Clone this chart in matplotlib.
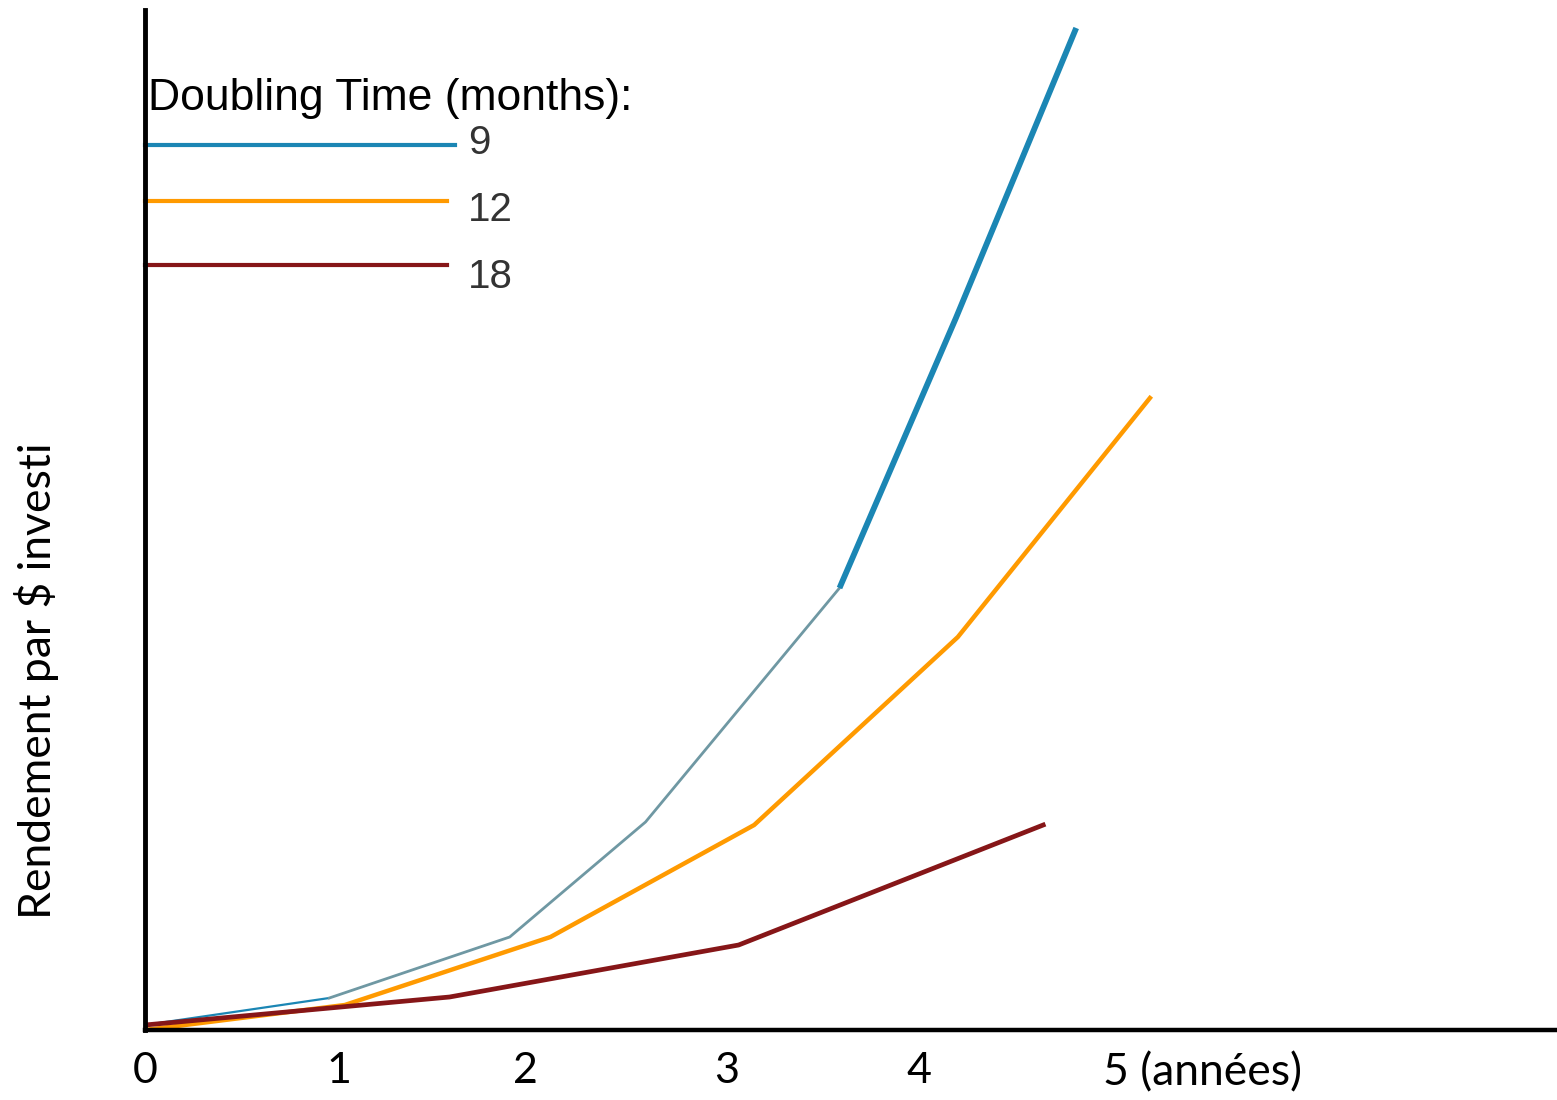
import matplotlib
matplotlib.use("Agg")
import matplotlib.pyplot as plt

# Rendement par $ investi, selon le temps de doublement (mois)
# x in years, y in arbitrary units
years_9 = [0.0, 0.95, 1.88, 2.58, 3.58, 4.18, 4.80]
value_9 = [0.05, 0.32, 0.93, 2.08, 4.42, 7.12, 10.02]

years_12 = [0.0, 1.03, 2.09, 3.14, 4.19, 5.18]
value_12 = [0.0, 0.25, 0.93, 2.05, 3.93, 6.32]

years_18 = [0.0, 1.57, 3.06, 4.63]
value_18 = [0.05, 0.33, 0.85, 2.05]

tick_years = [0, 1, 1.96, 3, 3.99]
tick_labels = ["0", "1", "2", "3", "4"]
legend_labels = ["9", "12", "18"]

BLUE = "#1b86b4"
BLUE_MID = "#6f98a3"
ORANGE = "#ff9a00"
DARKRED = "#861618"

fig = plt.figure(figsize=(15.57, 11), dpi=100)
ax = fig.add_axes([145 / 1557, 70 / 1100, 1412 / 1557, 1020 / 1100])
ax.set_xlim(0, 1412 / 194)
ax.set_ylim(0, 10.2)

# 9 months: thin start, grey-ish middle, thick top part
ax.plot(years_9[:2], value_9[:2], color=BLUE, lw=1.6, solid_capstyle="butt")
ax.plot(years_9[1:5], value_9[1:5], color=BLUE_MID, lw=2.0)
ax.plot(years_9[4:], value_9[4:], color=BLUE, lw=4.2, solid_capstyle="butt")
ax.plot(years_12, value_12, color=ORANGE, lw=3.2)
ax.plot(years_18, value_18, color=DARKRED, lw=3.4)

for s in ["top", "right"]:
    ax.spines[s].set_visible(False)
ax.spines["left"].set_linewidth(3.5)
ax.spines["bottom"].set_linewidth(3.2)
ax.set_yticks([])
ax.set_xticks(tick_years)
ax.set_xticklabels(tick_labels, fontfamily="Lato", fontsize=31)
ax.tick_params(axis="x", length=0, pad=16)
ax.text(4.94, -0.22, "5 (années)", fontfamily="Lato", fontsize=32,
        ha="left", va="top")

fig.text(37 / 1557, 0.381, "Rendement par $ investi", rotation=90,
         fontfamily="Lato", fontsize=32, ha="center", va="center")

# legend, drawn by hand
ax.text(0.002, 0.913, "Doubling Time (months):", transform=ax.transAxes,
        fontfamily="Liberation Sans", fontsize=32, ha="left", va="center")
leg_colors = [BLUE, ORANGE, DARKRED]
leg_y = [1 - 135 / 1020, 1 - 191 / 1020, 1 - 255 / 1020]
leg_lab_y = [1 - 133 / 1020, 1 - 200 / 1020, 1 - 267 / 1020]
leg_end = [310 / 1412, 302 / 1412, 302 / 1412]
for c, yy, ly, xe, lab in zip(leg_colors, leg_y, leg_lab_y, leg_end,
                              legend_labels):
    ax.plot([0, xe], [yy, yy], transform=ax.transAxes, color=c, lw=3.0,
            clip_on=False)
    ax.text(323 / 1412, ly, lab, transform=ax.transAxes,
            fontfamily="Liberation Sans", fontsize=29, color="#333333",
            ha="left", va="center")

fig.savefig("out.png", dpi=100)
